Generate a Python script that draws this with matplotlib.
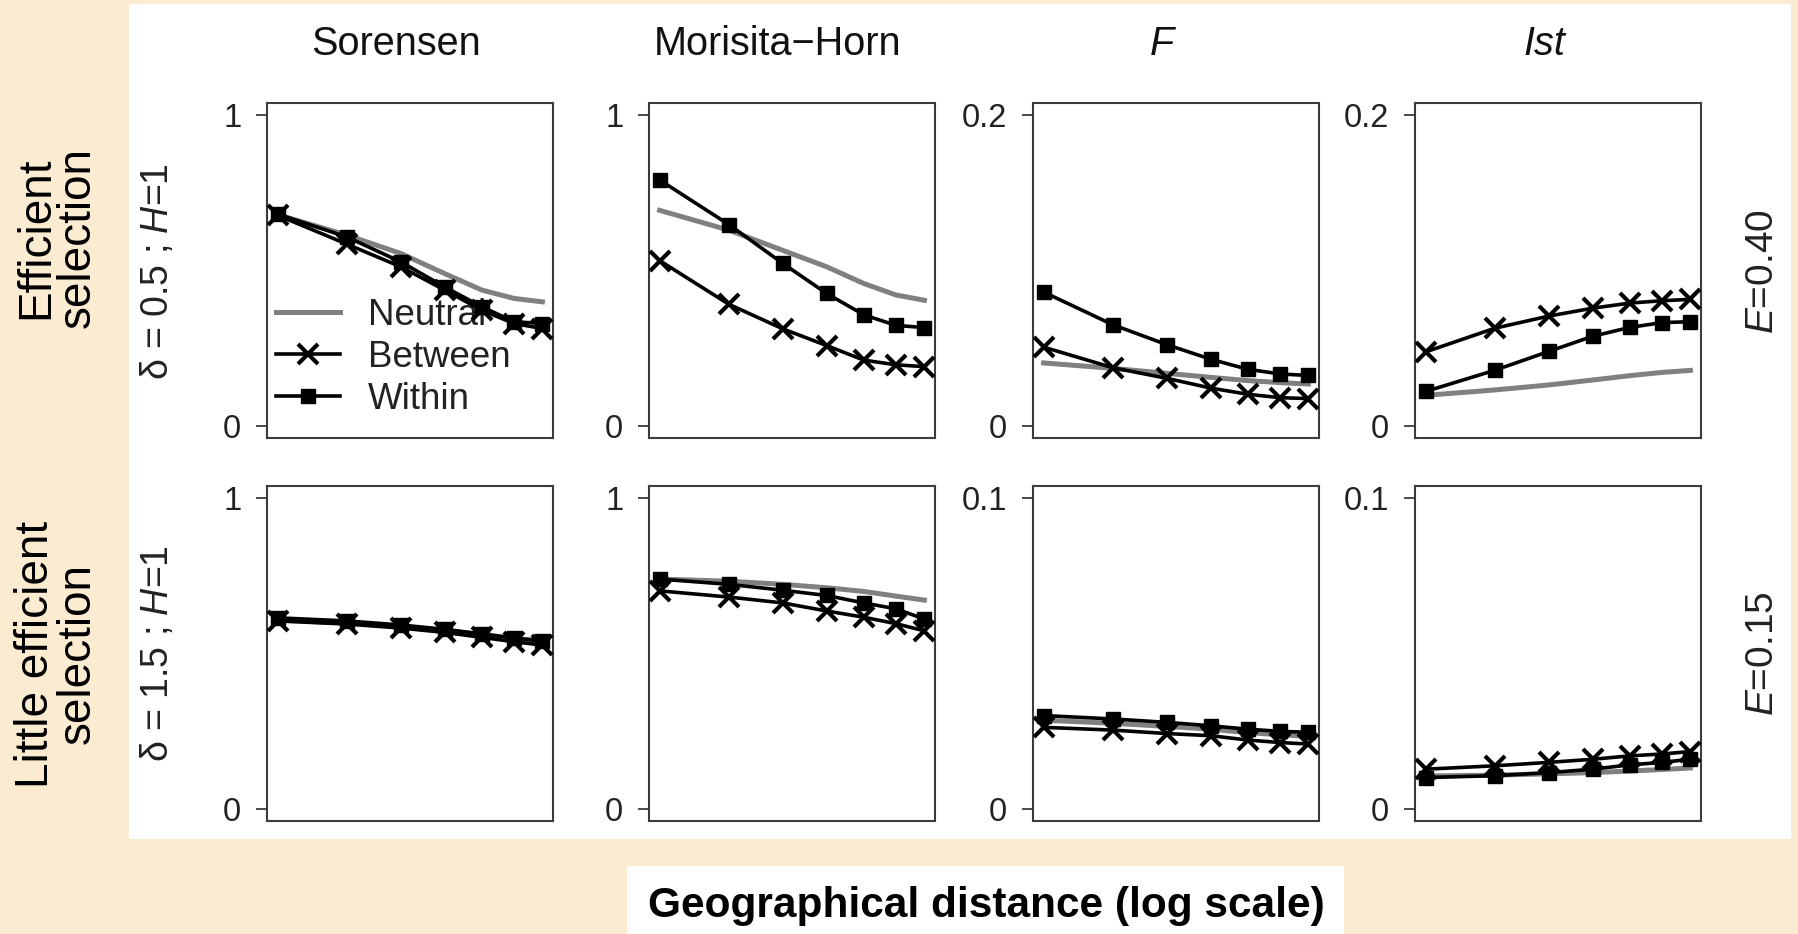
import numpy as np
import matplotlib
matplotlib.use("Agg")
import matplotlib.pyplot as plt
from matplotlib.patches import Rectangle

plt.rcParams['font.family'] = ['Liberation Sans', 'DejaVu Sans']
plt.rcParams['mathtext.fontset'] = 'custom'
plt.rcParams['mathtext.rm'] = 'Liberation Sans'
plt.rcParams['mathtext.it'] = 'Liberation Sans:italic'

# distance classes (plotted on log scale)
dist = [3, 4, 5, 6, 7, 8, 9]

col_titles = ["Sorensen", "Morisita\u2212Horn", "F", "Ist"]
col_italic = [False, False, True, True]
row_labels = ["Efficient\nselection", "Little efficient\nselection"]
row_params = ["\u03b4 = 0.5 ; $H$=1", "\u03b4 = 1.5 ; $H$=1"]
row_e = ["$E$=0.40", "$E$=0.15"]
y_tops = [[1, 1, 0.2, 0.2], [1, 1, 0.1, 0.1]]
y_top_labels = [["1", "1", "0.2", "0.2"], ["1", "1", "0.1", "0.1"]]

# row 1 : efficient selection
sor_neutral_1 = [0.680, 0.614, 0.555, 0.490, 0.437, 0.410, 0.399]
sor_between_1 = [0.678, 0.585, 0.512, 0.437, 0.372, 0.329, 0.313]
sor_within_1 = [0.682, 0.608, 0.528, 0.447, 0.383, 0.335, 0.329]
mh_neutral_1 = [0.694, 0.630, 0.565, 0.512, 0.458, 0.421, 0.404]
mh_between_1 = [0.532, 0.391, 0.312, 0.258, 0.211, 0.196, 0.190]
mh_within_1 = [0.792, 0.648, 0.523, 0.426, 0.357, 0.323, 0.316]
f_neutral_1 = [0.0404, 0.0369, 0.0337, 0.0311, 0.0290, 0.0277, 0.0268]
f_between_1 = [0.0506, 0.0373, 0.0305, 0.0242, 0.0202, 0.0180, 0.0174]
f_within_1 = [0.0861, 0.0650, 0.0522, 0.0428, 0.0363, 0.0333, 0.0323]
ist_neutral_1 = [0.0195, 0.0230, 0.0262, 0.0294, 0.0322, 0.0343, 0.0356]
ist_between_1 = [0.0475, 0.0628, 0.0706, 0.0757, 0.0790, 0.0805, 0.0814]
ist_within_1 = [0.0220, 0.0357, 0.0478, 0.0576, 0.0633, 0.0664, 0.0670]

# row 2 : little efficient selection
sor_neutral_2 = [0.608, 0.598, 0.587, 0.574, 0.561, 0.549, 0.540]
sor_between_2 = [0.605, 0.595, 0.582, 0.568, 0.552, 0.538, 0.527]
sor_within_2 = [0.615, 0.605, 0.592, 0.578, 0.563, 0.550, 0.540]
mh_neutral_2 = [0.740, 0.733, 0.723, 0.712, 0.700, 0.685, 0.672]
mh_between_2 = [0.702, 0.682, 0.663, 0.637, 0.617, 0.596, 0.573]
mh_within_2 = [0.740, 0.723, 0.704, 0.687, 0.663, 0.644, 0.611]
f_neutral_2 = [0.0285, 0.0275, 0.0265, 0.0256, 0.0245, 0.0238, 0.0233]
f_between_2 = [0.0262, 0.0253, 0.0242, 0.0235, 0.0221, 0.0213, 0.0208]
f_within_2 = [0.0300, 0.0289, 0.0278, 0.0267, 0.0256, 0.0249, 0.0246]
ist_neutral_2 = [0.0105, 0.0108, 0.0112, 0.0116, 0.0121, 0.0126, 0.0131]
ist_between_2 = [0.0127, 0.0138, 0.0149, 0.0159, 0.0170, 0.0176, 0.0184]
ist_within_2 = [0.0100, 0.0106, 0.0116, 0.0127, 0.0141, 0.0149, 0.0159]

panels = [
    [(sor_neutral_1, sor_between_1, sor_within_1),
     (mh_neutral_1, mh_between_1, mh_within_1),
     (f_neutral_1, f_between_1, f_within_1),
     (ist_neutral_1, ist_between_1, ist_within_1)],
    [(sor_neutral_2, sor_between_2, sor_within_2),
     (mh_neutral_2, mh_between_2, mh_within_2),
     (f_neutral_2, f_between_2, f_within_2),
     (ist_neutral_2, ist_between_2, ist_within_2)],
]

W, H = 1799, 934
BEIGE = '#fbebd0'
EDGE = '#3c3c3c'


def px_box(x0, y0, w, h):
    # pixel box (top-left origin) -> figure fraction
    return [x0 / W, 1 - (y0 + h) / H, w / W, h / H]


def draw_panel(ax, data, top, top_label):
    neutral, between, within = data
    ax.plot(dist, neutral, color='#808080', lw=3.6, zorder=2, label='Neutral')
    ax.plot(dist, between, color='black', lw=2.6, marker='x', ms=14, mew=3.0,
            zorder=3, label='Between')
    ax.plot(dist, within, color='black', lw=2.6, marker='s', ms=10,
            zorder=4, label='Within')
    ax.set_xscale('log')
    ax.margins(x=0.04)
    ax.set_ylim(-0.04 * top, 1.04 * top)
    ax.set_xticks([])
    ax.minorticks_off()
    ax.set_yticks([0, top])
    ax.set_yticklabels(["0", top_label])
    ax.tick_params(axis='y', length=8, width=1.3, color=EDGE, pad=10.5,
                   labelsize=23.5, labelcolor='#222222')
    for sp in ax.spines.values():
        sp.set_color(EDGE)
        sp.set_linewidth(1.5)


fig = plt.figure(figsize=(W / 100, H / 100), dpi=100)
fig.patch.set_facecolor(BEIGE)

# white panel behind the plots and behind the x label
fig.patches.append(Rectangle((129 / W, 1 - 839 / H), (1791 - 129) / W, 835 / H,
                             transform=fig.transFigure, facecolor='white',
                             edgecolor='none', zorder=-10))
fig.patches.append(Rectangle((627 / W, 0), 717 / W, 68 / H,
                             transform=fig.transFigure, facecolor='white',
                             edgecolor='none', zorder=-10))

col_left = [267, 649, 1033, 1415]
row_top = [103, 486]
ax_w, ax_h = 286, 335

for r in range(2):
    for c in range(4):
        ax = fig.add_axes(px_box(col_left[c], row_top[r], ax_w, ax_h))
        draw_panel(ax, panels[r][c], y_tops[r][c], y_top_labels[r][c])
        if r == 0 and c == 0:
            leg = ax.legend(loc='center left', bbox_to_anchor=(0.03, 0.24),
                            frameon=False, fontsize=26.5, handlelength=1.75,
                            handletextpad=0.75, labelspacing=0.19,
                            borderpad=0, borderaxespad=0)
            leg.set_zorder(1)
            for t in leg.get_texts():
                t.set_color('#222222')

# column titles
for c in range(4):
    xc = (col_left[c] + ax_w / 2 - 14) / W
    fig.text(xc, 1 - 44 / H, col_titles[c], ha='center', va='center',
             fontsize=28.5, color='#111111',
             fontstyle='italic' if col_italic[c] else 'normal')

# row labels on the left, parameters and E on the sides
label_centers = [238, 654]
row_centers = [272, 654]
for r in range(2):
    yc = 1 - row_centers[r] / H
    fig.text(57 / W, 1 - label_centers[r] / H, row_labels[r], rotation=90,
             ha='center', va='center', multialignment='center', fontsize=33,
             linespacing=0.95, color='black')
    fig.text(158 / W, yc, row_params[r], rotation=90, ha='center', va='center',
             fontsize=27, color='#222222')
    fig.text(1763 / W, yc, row_e[r], rotation=90, ha='center', va='center',
             fontsize=28, color='#222222')

fig.text(986 / W, 1 - 906 / H, "Geographical distance (log scale)", ha='center',
         va='center', fontsize=30.5, fontweight='bold', color='black')

fig.savefig("out.png", dpi=100, facecolor=fig.get_facecolor())
